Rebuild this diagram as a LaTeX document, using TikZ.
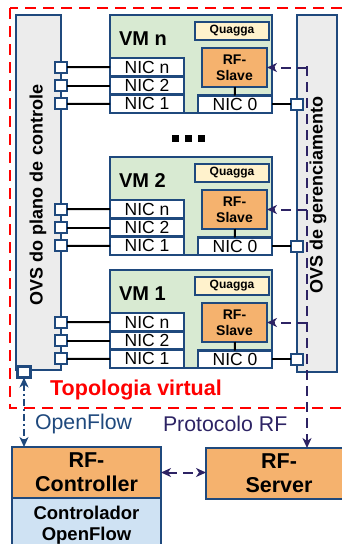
\documentclass[tikz,border=0pt]{standalone}
\usepackage{fontspec}
\setmainfont{Liberation Sans}
\usetikzlibrary{arrows.meta}
\definecolor{bord}{RGB}{31,73,125}
\definecolor{ovsgray}{RGB}{236,236,236}
\definecolor{vmgreen}{RGB}{216,234,210}
\definecolor{quaggay}{RGB}{255,242,204}
\definecolor{rforange}{RGB}{245,178,110}
\definecolor{ctlblue}{RGB}{207,226,243}
\definecolor{rfpurple}{RGB}{45,35,100}
\definecolor{topored}{RGB}{255,0,0}
\newcommand\rbox[7]{%
\node[#1, minimum width={(#5)-(#3)}, minimum height={(#6)-(#4)}] (#2) at ({((#3)+(#5))/2},{((#4)+(#6))/2}) {#7};}
\newcommand\vmblock[3]{%
\pgfmathsetmacro\T{#3}%
\rbox{vmbox}{vm#1}{110}{\T}{272}{\T+98}{}
\node[vmlabel, anchor=west] (vmlab#1) at (119,{\T+24}) {VM #2};
\rbox{nicbox}{nicn#1}{110}{\T+43}{184}{\T+61.33}{NIC n}
\rbox{nicbox}{nictwo#1}{110}{\T+61.33}{184}{\T+79.67}{NIC 2}
\rbox{nicbox}{nicone#1}{110}{\T+79.67}{184}{\T+98}{NIC 1}
\rbox{nicbox}{niczero#1}{198}{\T+80.5}{272}{\T+98}{NIC 0}
\rbox{slavebox}{slave#1}{202}{\T+33}{267}{\T+72}{RF-\\Slave}
\rbox{quaggabox}{quagga#1}{195}{\T+7}{269}{\T+25}{Quagga}
\draw[link] (slave#1) -- (niczero#1);
\node[port] (pn#1) at (61,{\T+52.17}) {};
\node[port] (ptwo#1) at (61,{\T+70.5}) {};
\node[port] (pone#1) at (61,{\T+88.83}) {};
\node[port] (pz#1) at (297,{\T+89.25}) {};
\draw[link] (pn#1) -- (nicn#1);
\draw[link] (ptwo#1) -- (nictwo#1);
\draw[link] (pone#1) -- (nicone#1);
\draw[link] (niczero#1) -- (pz#1);
\coordinate (rfin#1) at (307,{\T+52.5});
\draw[rfarrow, tipb] (rfin#1) -- (slave#1.east);
}
\begin{document}
\begin{tikzpicture}[x=1pt,y=-1pt,
  every node/.style={inner sep=0pt, outer sep=0pt, align=center},
  box/.style={draw=bord, line width=2.6pt},
  ovsbox/.style={box, fill=ovsgray},
  vmbox/.style={box, fill=vmgreen},
  nicbox/.style={box, fill=white, font=\fontsize{17.5}{19}\selectfont},
  slavebox/.style={box, fill=rforange, font=\bfseries\fontsize{14}{15.5}\selectfont},
  quaggabox/.style={box, fill=quaggay, font=\bfseries\fontsize{12}{13}\selectfont},
  vmlabel/.style={font=\bfseries\fontsize{20}{22}\selectfont},
  port/.style={draw=bord, line width=2.3pt, fill=white, minimum width=12pt, minimum height=11pt},
  link/.style={draw=black, line width=2pt},
  tip/.tip={Stealth[length=10pt,width=9pt,inset=3pt]},
  rfarrow/.style={draw=rfpurple, line width=2pt, dash pattern=on 10pt off 6pt},
  ofarrow/.style={draw=bord, line width=1.8pt, dash pattern=on 7pt off 3pt on 2pt off 3pt},
  tipb/.style={-tip},
  tipbb/.style={tip-tip},
  bigbox/.style={box, font=\bfseries\fontsize{21.5}{24}\selectfont},
]
\useasboundingbox (0,0) rectangle (341,544);
% virtual topology frame
\draw[topored, line width=2.6pt, dash pattern=on 11pt off 7pt] (10,8) rectangle (352,408);
% OVS switches
\rbox{ovsbox}{ovsctl}{16}{15}{61}{370}{}
\rbox{ovsbox}{ovsmgmt}{297}{15}{337}{372}{}
\node[rotate=90, font=\bfseries\fontsize{18}{20}\selectfont] (ovsctllab) at (38,195) {OVS do plano de controle};
\node[rotate=90, font=\bfseries\fontsize{18}{20}\selectfont] (ovsmgmtlab) at (318,195) {OVS de gerenciamento};
% VMs
\vmblock{n}{n}{15}
\vmblock{two}{2}{157}
\vmblock{one}{1}{270}
% dots
\fill[black] (171.5,134.5) rectangle (178.5,141.5);
\fill[black] (184.5,134.5) rectangle (191.5,141.5);
\fill[black] (198,134.5) rectangle (205,141.5);
% labels
\node[text=topored, font=\bfseries\fontsize{21.5}{23}\selectfont] (topo) at (136,390) {Topologia virtual};
\node[anchor=west, text=bord, font=\fontsize{21.3}{23}\selectfont] (oflab) at (35,424) {OpenFlow};
\node[anchor=west, text=rfpurple, font=\fontsize{21.3}{23}\selectfont] (rflab) at (163,424) {Protocolo RF};
% controllers
\rbox{bigbox, fill=rforange}{rfc}{12}{447}{161}{498}{RF-\\Controller}
\rbox{box, fill=ctlblue, font=\bfseries\fontsize{18.5}{21}\selectfont}{ofc}{12}{498}{161}{552}{Controlador\\OpenFlow}
\rbox{bigbox, fill=rforange}{rfs}{206}{448}{352}{499}{RF-\\Server}
% OpenFlow port and link
\node[port, minimum width=13pt, minimum height=11pt] (ofport) at (24,372) {};
\draw[ofarrow, tipbb] (ofport.south) -- (ofport.south |- rfc.north);
% RF protocol links
\coordinate (rftop) at (307,66);
\draw[rfarrow, tipb] (rftop) -- (rftop |- rfs.north);
\draw[rfarrow, tipbb] (rfc.east) -- (rfc.east -| rfs.west);
\end{tikzpicture}
\end{document}
